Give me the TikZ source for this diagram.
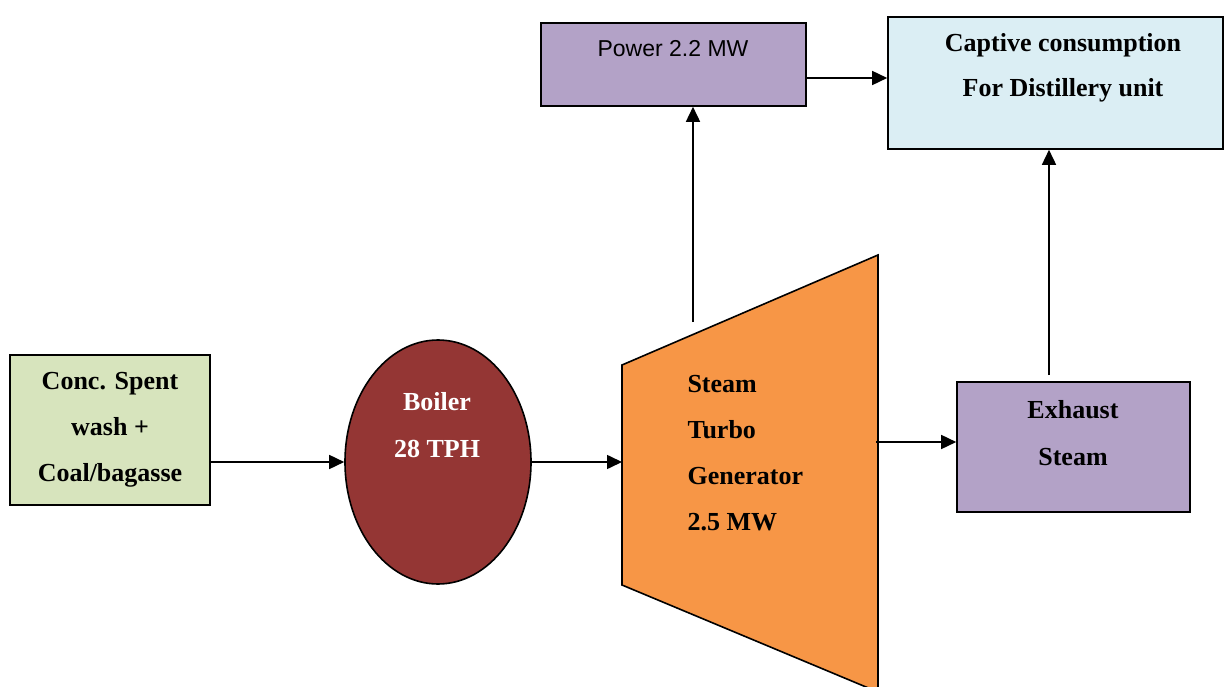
\documentclass[tikz,border=0pt]{standalone}
\usepackage{fontspec}
\setmainfont{Liberation Serif}
\newfontfamily\arialfont{Liberation Sans}
\usetikzlibrary{arrows.meta, positioning, shapes.geometric}
\definecolor{kfeed}{HTML}{D7E4BD}
\definecolor{kboiler}{HTML}{943634}
\definecolor{kturbine}{HTML}{F79646}
\definecolor{kpurple}{HTML}{B3A2C7}
\definecolor{kcaptive}{HTML}{DBEEF4}
\tikzset{
  flowbox/.style={draw=black, line width=1.6pt, inner sep=0pt},
  boldtxt/.style={font=\fontsize{26}{46}\selectfont\bfseries, align=center},
  flow/.style={-{Triangle[length=15pt, width=14pt]}, line width=1.6pt}
}

\begin{document}
\begin{tikzpicture}[x=1pt, y=-1pt]
\useasboundingbox (0,0) rectangle (1224,687);
% boxes
\node[flowbox, fill=kfeed, minimum width=200pt, minimum height=150pt] (feed) at (110,430) {};
\node[flowbox, ellipse, fill=kboiler, minimum width=186pt, minimum height=244pt] (boiler) at (438,462) {};
\node[flowbox, fill=kpurple, minimum width=265pt, minimum height=83pt] (power) at (673.5,64.5) {};
\node[flowbox, fill=kcaptive, minimum width=335pt, minimum height=132pt] (captive) at (1055.5,83) {};
\node[flowbox, fill=kpurple, minimum width=233pt, minimum height=130pt] (exhaust) at (1073.5,447) {};
% turbine
\filldraw[fill=kturbine, draw=black, line width=1.6pt]
  (622,365) -- (878,255) -- (878,692) -- (622,585) -- cycle;
\coordinate (stgin) at (622,462);
\coordinate (stgout) at (876,442);
\coordinate (stgtop) at (693,322);
\coordinate (exup) at (1049,375);
% texts
\node[boldtxt] at (110,430) {Conc. Spent\\wash +\\Coal/bagasse};
\node[boldtxt, text=white, font=\fontsize{26}{47}\selectfont\bfseries] at (437,425.5) {Boiler\\28 TPH};
\node[boldtxt, align=left, anchor=west] at (684,453) {Steam\\Turbo\\Generator\\2.5 MW};
\node[font=\arialfont\fontsize{23}{28}\selectfont] at (673,49) {Power 2.2 MW};
\node[boldtxt, font=\fontsize{26}{45}\selectfont\bfseries] at (1063,67.5) {Captive consumption\\For Distillery unit};
\node[boldtxt, font=\fontsize{26}{47}\selectfont\bfseries] at (1073,433.5) {Exhaust\\Steam};
% connectors
\draw[flow] (feed.east |- boiler.west) -- (boiler.west);
\draw[flow] (boiler.east) -- (stgin);
\draw[flow] (stgout) -- (stgout -| exhaust.west);
\draw[flow] (stgtop) -- (stgtop |- power.south);
\draw[flow] ([yshift=-13.5pt]power.east) -- ([yshift=-13.5pt]power.east -| captive.west);
\draw[flow] (exup) -- (exup |- captive.south);
\end{tikzpicture}
\end{document}
